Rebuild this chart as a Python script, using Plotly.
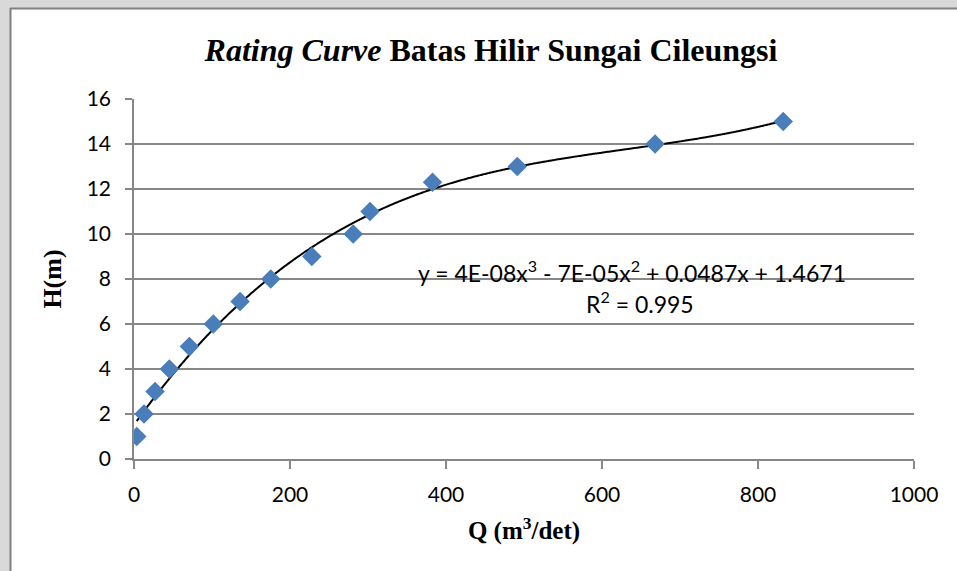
import numpy as np
import plotly.graph_objects as go

# Data
Q = [3.5, 12.8, 27.0, 45.3, 71.0, 101.7, 136.0, 175.3, 228.0, 281.0, 302.6, 382.7, 491.4, 668.0, 832.4]
H = [1, 2, 3, 4, 5, 6, 7, 8, 9, 10, 11, 12.3, 13, 14, 15]
x_ticks = [0, 200, 400, 600, 800, 1000]
y_ticks = [0, 2, 4, 6, 8, 10, 12, 14, 16]
eq_text = "y = 4E-08x<sup>3</sup> - 7E-05x<sup>2</sup> + 0.0487x + 1.4671"
r2_text = "R<sup>2</sup> = 0.995"

# Cubic trend line fitted to the data (as Excel's polynomial trendline)
coef = np.polyfit(Q, H, 3)
xt = np.linspace(min(Q), max(Q), 400)
yt = np.polyval(coef, xt)

W, Hh = 957, 571
L, R, T, B = 134, 43, 99, 112
pw, ph = W - L - R, Hh - T - B

def px(xp):
    return (xp - L) / pw

def py(yp):
    return (Hh - B - yp) / ph

fig = go.Figure()
fig.add_trace(go.Scatter(x=xt, y=yt, mode="lines",
                         line=dict(color="black", width=2, shape="spline"),
                         showlegend=False, hoverinfo="skip"))
fig.add_trace(go.Scatter(x=Q, y=H, mode="markers",
                         marker=dict(symbol="diamond", size=15, color="#4a7ebb"),
                         showlegend=False))

grid = "#878787"
fig.update_xaxes(range=[0, 1000], tickvals=x_ticks, showgrid=False, showline=True,
                 linecolor=grid, linewidth=1.5, ticks="outside", ticklen=8, tickwidth=1.5,
                 tickcolor=grid, zeroline=False, ticklabelstandoff=8,
                 tickfont=dict(family="Lato", size=21, color="black"),
                 title=dict(text="<b>Q (m<sup>3</sup>/det)</b>", standoff=17,
                            font=dict(family="Liberation Serif", size=25, color="black")))
fig.update_yaxes(range=[0, 16], tickvals=y_ticks, showgrid=True, gridcolor=grid, gridwidth=1.5,
                 showline=True, linecolor=grid, linewidth=1.5, ticks="outside", ticklen=7,
                 tickwidth=1.5, tickcolor=grid, zeroline=False, ticklabelstandoff=10,
                 tickfont=dict(family="Lato", size=21, color="black"),
                 title=dict(text="<b>H(m)</b>", standoff=18,
                            font=dict(family="Liberation Serif", size=26, color="black")))

shapes = [
    dict(type="rect", xref="paper", yref="paper", x0=px(0), x1=px(W), y0=py(0), y1=py(8),
         fillcolor="#d9d9d9", line=dict(width=0), layer="below"),
    dict(type="rect", xref="paper", yref="paper", x0=px(0), x1=px(10), y0=py(Hh), y1=py(0),
         fillcolor="#d9d9d9", line=dict(width=0), layer="below"),
    dict(type="line", xref="paper", yref="paper", x0=px(10), x1=px(W), y0=py(8.5), y1=py(8.5),
         line=dict(color="#808080", width=2)),
    dict(type="line", xref="paper", yref="paper", x0=px(10.5), x1=px(10.5), y0=py(8), y1=py(Hh),
         line=dict(color="#808080", width=2)),
]

fig.update_layout(
    width=W, height=Hh,
    margin=dict(l=L, r=R, t=T, b=B),
    paper_bgcolor="white", plot_bgcolor="white",
    shapes=shapes,
    title=dict(text="<b><i>Rating Curve</i> Batas Hilir Sungai Cileungsi</b>",
               x=491 / W, xref="container", xanchor="center",
               y=1 - 50 / Hh, yref="container", yanchor="middle",
               font=dict(family="Liberation Serif", size=32, color="black")),
    annotations=[
        dict(text=eq_text, x=px(632), y=py(271), xref="paper", yref="paper",
             showarrow=False, xanchor="center", yanchor="middle",
             font=dict(family="Lato", size=23, color="black")),
        dict(text=r2_text, x=px(640), y=py(302), xref="paper", yref="paper",
             showarrow=False, xanchor="center", yanchor="middle",
             font=dict(family="Lato", size=23, color="black")),
    ],
)

fig.write_html("out.html")
